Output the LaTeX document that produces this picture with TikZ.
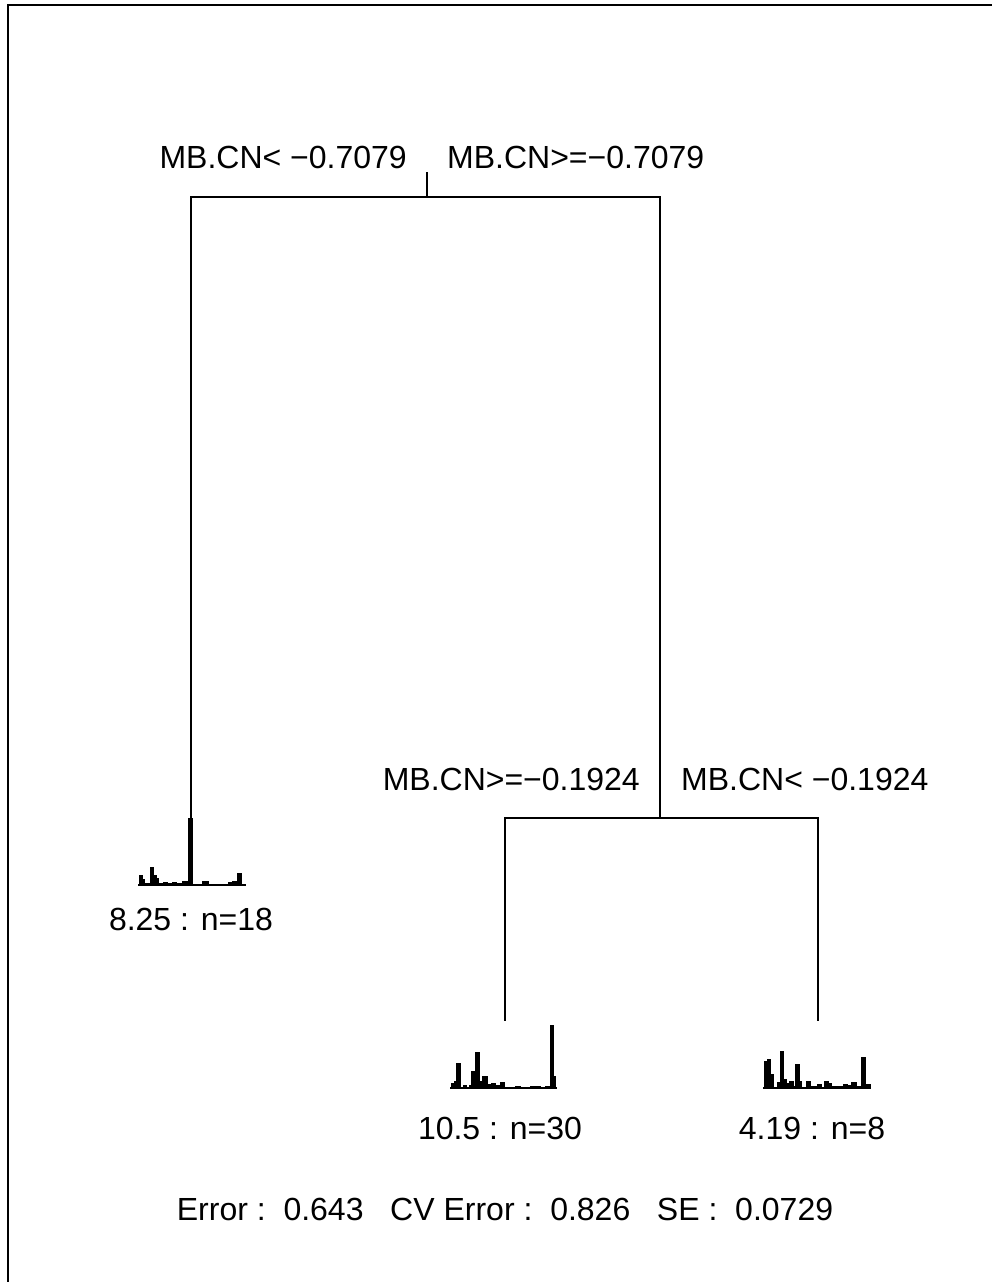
\documentclass[tikz,border=0pt]{standalone}
\usepackage{fontspec}
\setmainfont{Liberation Sans}
\begin{document}
\begin{tikzpicture}[x=1pt,y=-1pt,
  treeline/.style={line width=1.4pt,line cap=rect},
  lab/.style={inner sep=0pt,font=\fontsize{32}{38}\selectfont},
  bar/.style={fill=black,draw=black,line width=0.4pt},
  hbase/.style={line width=2.2pt}]
\useasboundingbox (0,0) rectangle (992,1282);
\fill[white] (0,0) rectangle (992,1282);
% frame
\draw[line width=2pt] (8,1290) -- (8,5) -- (1000,5);
% tree coordinates
\coordinate (top) at (427,173);
\coordinate (root) at (427,197);
\coordinate (rl) at (191,197);
\coordinate (rr) at (660,197);
\coordinate (leafA) at (191,818);
\coordinate (split) at (660,818);
\coordinate (sl) at (505,818);
\coordinate (sr) at (818,818);
\coordinate (leafB) at (505,1020);
\coordinate (leafC) at (818,1020);
% connectors
\draw[treeline] (top) -- (root);
\draw[treeline] (rl) -- (rr);
\draw[treeline] (rl) -- (leafA);
\draw[treeline] (rr) -- (split);
\draw[treeline] (sl) -- (sr);
\draw[treeline] (sl) -- (leafB);
\draw[treeline] (sr) -- (leafC);
% split labels
\node[lab,anchor=base east] (l1) at (407,168) {MB.CN< −0.7079};
\node[lab,anchor=base west] (r1) at (447,168) {MB.CN>=−0.7079};
\node[lab,anchor=base east] (l2) at (640,790) {MB.CN>=−0.1924};
\node[lab,anchor=base west] (r2) at (681,790) {MB.CN< −0.1924};
% histogram leaf A
\foreach \a/\b/\h in {139/142/10,142/144/6,144/150/2,150/153/18,153/156/10,156/158/7,158/163/2,163/167/3,167/172/2,172/176/3,176/182/2,182/188/4,188/192/67,192/202/1,202/208/4,208/228/1,228/232/3,232/237/4,237/241/12,241/245/1}
  \filldraw[bar] (\a,885) rectangle (\b,885-\h);
\draw[hbase] (138,885) -- (246,885);
% histogram leaf B
\foreach \a/\b/\h in {451/454/5,454/456/7,456/460/25,460/463/1,463/466/3,466/469/1,469/471/3,471/475/17,475/479/36,479/482/7,482/487/12,487/490/4,490/491/3,491/495/5,495/500/3,500/504/6,504/515/1,515/520/2,520/530/1,530/540/1.5,540/545/1,545/550/1.5,550/553/63,553/555/12,555/556/1}
  \filldraw[bar] (\a,1088) rectangle (\b,1088-\h);
\draw[hbase] (450,1088) -- (557,1088);
% histogram leaf C
\foreach \a/\b/\h in {764/767/27,767/770/29,770/773/14,773/777/1,777/780/6,780/783/37,783/786/9,786/789/5,789/793/7,793/795/2,795/799/24,799/801/7,801/806/1,806/810/7,810/817/2,817/821/4,821/824/1,824/828/7,828/831/5,831/834/2,834/843/1.5,843/847/4,847/851/3,851/856/6,856/861/2,861/865/31,865/870/4}
  \filldraw[bar] (\a,1088) rectangle (\b,1088-\h);
\draw[hbase] (763,1088) -- (871,1088);
% leaf labels
\node[lab,anchor=base] (ta) at (191,930) {8.25 : n=18};
\node[lab,anchor=base] (tb) at (500,1139) {10.5 : n=30};
\node[lab,anchor=base] (tc) at (812,1139) {4.19 : n=8};
% footer
\node[lab,anchor=base] (err) at (505,1220) {Error :\ \ 0.643\ \ \ CV Error :\ \ 0.826\ \ \ SE :\ \ 0.0729};
\end{tikzpicture}
\end{document}
